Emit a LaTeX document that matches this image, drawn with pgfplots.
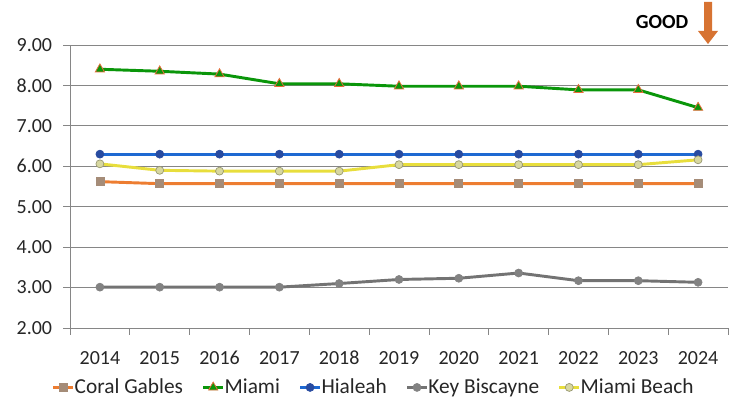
\documentclass[border=0pt]{standalone}
\usepackage{fontspec}
\setmainfont{Carlito}
\usepackage{pgfplots}
\pgfplotsset{compat=1.18}

\definecolor{cgline}{RGB}{237,125,49}
\definecolor{cgmark}{RGB}{165,140,120}
\definecolor{mialine}{RGB}{10,150,10}
\definecolor{miaedge}{RGB}{230,110,60}
\definecolor{hialine}{RGB}{30,105,210}
\definecolor{hiamark}{RGB}{40,75,160}
\definecolor{kbline}{RGB}{115,115,115}
\definecolor{kbmark}{RGB}{130,130,130}
\definecolor{mbline}{RGB}{232,222,60}
\definecolor{mbmark}{RGB}{215,215,160}
\definecolor{gridc}{RGB}{134,134,134}
\definecolor{arrowc}{RGB}{215,115,50}

\begin{document}
\begin{tikzpicture}[x=0.75pt,y=0.75pt]
\useasboundingbox (-70,-74) rectangle (670,328);
\begin{axis}[
    at={(0,0)}, anchor=south west,
    scale only axis,
    width=493.5pt, height=212.25pt,
    xmin=-0.5, xmax=10.5,
    ymin=2, ymax=9,
    axis x line*=bottom, axis y line*=left,
    axis line style={gridc, line width=0.6pt},
    xtick={0,...,10},
    xticklabels={2014,2015,2016,2017,2018,2019,2020,2021,2022,2023,2024},
    major x tick style={draw=none},
    minor xtick={-0.5,0.5,...,10.5},
    minor x tick style={gridc, line width=0.6pt},
    minor tick length=5pt,
    ytick={2,3,...,9},
    ymajorgrids,
    major grid style={gridc, line width=0.6pt},
    y tick style={gridc, line width=0.6pt},
    major tick length=5pt,
    tick align=outside,
    /pgf/number format/fixed,
    /pgf/number format/fixed zerofill,
    /pgf/number format/precision=2,
    /pgf/number format/assume math mode=true,
    ticklabel style={font=\fontsize{15}{18}\selectfont, text=black!85},
    xticklabel style={yshift=-8pt},
    yticklabel style={xshift=-4pt},
    legend style={at={(0.462,-0.21)}, anchor=center, draw=none, fill=none,
        legend columns=-1, font=\fontsize{16}{19}\selectfont, text=black!85,
        /tikz/every even column/.append style={column sep=12pt},
        /tikz/every odd column/.append style={column sep=-2pt},
        inner sep=0pt},
    legend image code/.code={%
        \draw[#1, mark repeat=2, mark phase=2] plot coordinates {(0pt,0pt) (7.5pt,0pt) (15pt,0pt)};},
    line width=2.2pt,
    every axis plot/.append style={mark size=3pt},
]
\addplot[cgline, mark=square*, mark options={fill=cgmark, draw=cgmark, line width=0.5pt}]
  coordinates {(0,5.62) (1,5.57) (2,5.57) (3,5.57) (4,5.57) (5,5.57) (6,5.57) (7,5.57) (8,5.57) (9,5.57) (10,5.57)};
\addplot[mialine, mark=triangle*, mark options={fill=mialine, draw=miaedge, line width=0.6pt, mark size=4pt}]
  coordinates {(0,8.40) (1,8.35) (2,8.28) (3,8.04) (4,8.04) (5,7.98) (6,7.98) (7,7.98) (8,7.89) (9,7.89) (10,7.45)};
\addplot[hialine, mark=*, mark options={fill=hiamark, draw=hiamark, line width=0.5pt}]
  coordinates {(0,6.30) (1,6.30) (2,6.30) (3,6.30) (4,6.30) (5,6.30) (6,6.30) (7,6.30) (8,6.30) (9,6.30) (10,6.30)};
\addplot[kbline, mark=*, mark options={fill=kbmark, draw=kbmark, line width=0.5pt}]
  coordinates {(0,3.01) (1,3.01) (2,3.01) (3,3.01) (4,3.10) (5,3.20) (6,3.23) (7,3.36) (8,3.17) (9,3.17) (10,3.13)};
\addplot[mbline, mark=*, mark options={fill=mbmark, draw=mbmark!70!black, line width=0.5pt}]
  coordinates {(0,6.06) (1,5.90) (2,5.88) (3,5.88) (4,5.88) (5,6.04) (6,6.04) (7,6.04) (8,6.04) (9,6.04) (10,6.16)};
\legend{Coral Gables, Miami, Hialeah, Key Biscayne, Miami Beach}
\end{axis}
\node[font=\fontsize{15}{18}\selectfont\bfseries, anchor=east] at (623,306) {GOOD};
\fill[arrowc] (634,326) -- (642,326) -- (642,297) -- (648,297) -- (638,284) -- (628,297) -- (634,297) -- cycle;
\end{tikzpicture}
\end{document}
